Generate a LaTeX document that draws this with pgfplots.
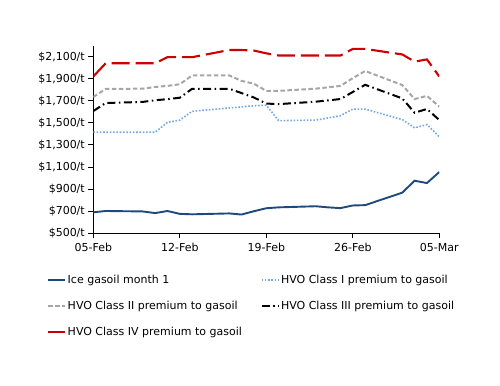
\documentclass[border=0pt]{standalone}
\usepackage{fontspec}
\setmainfont{DejaVu Sans}
\usepackage{pgfplots}
\usepackage{pgfplotstable}
\pgfplotsset{compat=1.18}
\definecolor{navy}{RGB}{31,73,125}
\definecolor{lblue}{RGB}{116,167,227}
\definecolor{grey}{RGB}{166,166,166}
\definecolor{rd}{RGB}{204,0,0}
\pgfplotstableread{
d blue c1 c2 c3 c4
0 690 1415 1735 1607 1920
1 702 1415 1807 1680 2040
4 698 1415 1810 1690 2040
5 683 1415 1825 1705 2040
6 702 1505 1835 1715 2095
7 676 1525 1850 1728 2095
8 672 1605 1930 1809 2095
11 680 1635 1930 1809 2160
12 670 1645 1880 1770 2160
13 700 1655 1855 1730 2155
14 727 1660 1790 1675 2130
15 735 1520 1790 1670 2110
18 745 1525 1810 1692 2110
19 735 1545 1822 1704 2110
20 728 1565 1835 1716 2110
21 752 1625 1905 1780 2170
22 755 1625 1970 1845 2170
25 868 1530 1843 1722 2120
26 976 1455 1716 1592 2055
27 955 1485 1745 1626 2075
28 1055 1375 1647 1526 1920
}\data
\begin{document}
\begin{tikzpicture}
\path[use as bounding box] (-93.3bp,-152.7bp) rectangle (406.7bp,233.3bp);
\begin{axis}[
  at={(0,0)}, anchor=south west,
  scale only axis, width=346bp, height=187.7bp,
  xmin=0, xmax=28, ymin=500, ymax=2200,
  axis x line*=bottom, axis y line*=left,
  axis line style={black, line width=1.2bp},
  tick align=outside, major tick length=5bp,
  tick style={black, line width=1bp},
  xtick={0,7,14,21,28},
  xticklabels={05-Feb,12-Feb,19-Feb,26-Feb,05-Mar},
  ytick={500,700,900,1100,1300,1500,1700,1900,2100},
  yticklabels={\$500/t,\$700/t,\$900/t,\$1{,}100/t,\$1{,}300/t,\$1{,}500/t,\$1{,}700/t,\$1{,}900/t,\$2{,}100/t},
  tick label style={font=\fontsize{11bp}{13bp}\selectfont},
  xticklabel style={yshift=-1.5bp},
  legend columns=2,
  legend cell align=left,
  legend style={draw=none, fill=none, at={(-0.134,-0.215)}, anchor=north west,
    font=\fontsize{11bp}{13bp}\selectfont, row sep=13bp, inner sep=0pt,
    nodes={inner sep=1.5bp}},
  /tikz/every even column/.append style={column sep=17bp},
]
\addplot[navy, line width=1.9bp] table[x=d,y=blue]{\data};
\addlegendentry{Ice gasoil month 1}
\addplot[lblue, line width=1.6bp, dash pattern=on 1.6bp off 1.7bp] table[x=d,y=c1]{\data};
\addlegendentry{HVO Class I premium to gasoil}
\addplot[grey, line width=2bp, dash pattern=on 4.5bp off 2.5bp] table[x=d,y=c2]{\data};
\addlegendentry{HVO Class II premium to gasoil}
\addplot[black, line width=2bp, dash pattern=on 8bp off 3.5bp on 1.5bp off 3.5bp] table[x=d,y=c3]{\data};
\addlegendentry{HVO Class III premium to gasoil}
\addplot[rd, line width=2.1bp, dash pattern=on 18bp off 6bp] table[x=d,y=c4]{\data};
\addlegendentry{HVO Class IV premium to gasoil}
\end{axis}
\end{tikzpicture}
\end{document}
